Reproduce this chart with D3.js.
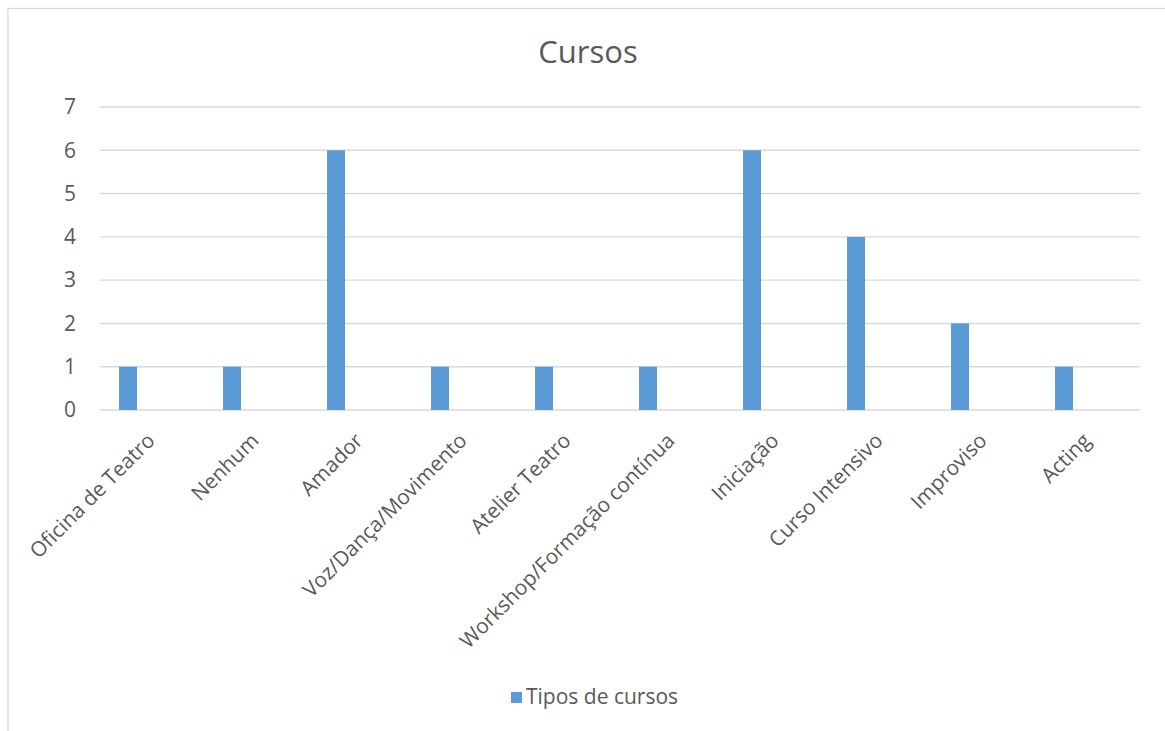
<!DOCTYPE html>
<html>
<head>
    <meta charset="utf-8">
    <title>Cursos</title>
    <script src="https://d3js.org/d3.v7.min.js"></script>
    <style>
        body {
            margin: 0;
            background-color: #FFFFFF;
            font-family: "Open Sans", sans-serif;
        }
        .grid line {
            stroke: #D9D9D9;
            stroke-width: 1.4px;
        }
        .tick text {
            fill: #595959;
        }
    </style>
</head>
<body>
    <div id="chart"></div>

    <script>
        // Data
        var categories = ["Oficina de Teatro", "Nenhum", "Amador", "Voz/Dança/Movimento", "Atelier Teatro",
            "Workshop/Formação contínua", "Iniciação", "Curso Intensivo", "Improviso", "Acting"];
        var values = [1, 1, 6, 1, 1, 1, 6, 4, 2, 1];
        var yTicks = [0, 1, 2, 3, 4, 5, 6, 7];
        var seriesName = "Tipos de cursos";
        var chartTitle = "Cursos";

        var width = 1165, height = 731;
        var plot = { left: 100, right: 1140, top: 107, bottom: 410 };

        var svg = d3.select("#chart")
            .append("svg")
            .attr("width", width)
            .attr("height", height);

        // Chart frame (right and bottom edges run off the picture)
        svg.append("rect")
            .attr("x", 8)
            .attr("y", 8.5)
            .attr("width", width + 20)
            .attr("height", height + 20)
            .style("fill", "none")
            .style("stroke", "#D9D9D9")
            .style("stroke-width", 1.3);

        // Scales
        var x = d3.scaleBand()
            .domain(categories)
            .range([plot.left, plot.right]);

        var y = d3.scaleLinear()
            .domain([0, 7])
            .range([plot.bottom, plot.top]);

        // Gridlines
        svg.append("g")
            .attr("class", "grid")
            .selectAll("line")
            .data(yTicks)
            .join("line")
            .attr("x1", plot.left)
            .attr("x2", plot.right)
            .attr("y1", function(d) { return y(d); })
            .attr("y2", function(d) { return y(d); });

        // Bars (sit left of the category centre, like the Excel original)
        var barW = x.bandwidth() * 0.173;
        var barOffset = x.bandwidth() * 0.183;

        svg.append("g")
            .selectAll("rect")
            .data(values)
            .join("rect")
            .attr("x", function(d, i) { return x(categories[i]) + barOffset; })
            .attr("y", function(d) { return y(d); })
            .attr("width", barW)
            .attr("height", function(d) { return y(0) - y(d); })
            .style("fill", "#5B9BD5");

        // Y axis
        var yAxis = svg.append("g")
            .attr("transform", "translate(" + plot.left + ",0)")
            .call(d3.axisLeft(y).tickValues(yTicks).tickFormat(d3.format("d")).tickSize(0).tickPadding(24));
        yAxis.select(".domain").remove();
        yAxis.selectAll("text")
            .style("font-family", "Open Sans")
            .style("font-size", "21px");

        // X axis labels
        var xAxis = svg.append("g")
            .attr("transform", "translate(0," + plot.bottom + ")")
            .call(d3.axisBottom(x).tickSize(0));
        xAxis.select(".domain").remove();
        xAxis.selectAll("text")
            .attr("x", 0)
            .attr("y", 0)
            .attr("dy", 0)
            .attr("transform", "translate(4,32) rotate(-45)")
            .style("text-anchor", "end")
            .style("font-family", "Open Sans")
            .style("font-size", "20.8px");

        // Title
        svg.append("text")
            .attr("x", 588)
            .attr("y", 63)
            .attr("text-anchor", "middle")
            .style("font-family", "Open Sans")
            .style("font-size", "31px")
            .style("fill", "#595959")
            .text(chartTitle);

        // Legend
        var legend = svg.append("g")
            .attr("transform", "translate(511,692)");
        legend.append("rect")
            .attr("width", 11)
            .attr("height", 11)
            .style("fill", "#5B9BD5");
        legend.append("text")
            .attr("x", 15)
            .attr("y", 12)
            .style("font-family", "Open Sans")
            .style("font-size", "21px")
            .style("fill", "#595959")
            .text(seriesName);
    </script>
</body>
</html>
